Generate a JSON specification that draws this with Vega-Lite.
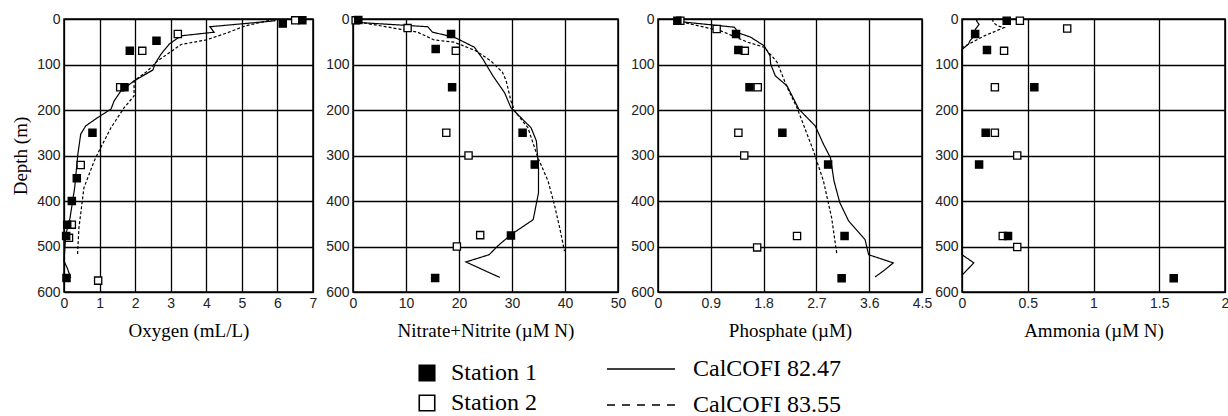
{
  "$schema": "https://vega.github.io/schema/vega-lite/v6.json",
  "background": "white",
  "padding": {"left": 10, "top": 11, "right": 0, "bottom": 0},
  "bounds": "flush",
  "spacing": 40,
  "datasets": {
    "pts": [
      {"v": "Oxygen", "st": "Station 2", "x": 6.5, "d": 3},
      {"v": "Oxygen", "st": "Station 2", "x": 3.2, "d": 33},
      {"v": "Oxygen", "st": "Station 2", "x": 2.2, "d": 70},
      {"v": "Oxygen", "st": "Station 2", "x": 1.58, "d": 150},
      {"v": "Oxygen", "st": "Station 2", "x": 0.47, "d": 321},
      {"v": "Oxygen", "st": "Station 2", "x": 0.22, "d": 452},
      {"v": "Oxygen", "st": "Station 2", "x": 0.14, "d": 481},
      {"v": "Oxygen", "st": "Station 2", "x": 0.96, "d": 575},
      {"v": "Oxygen", "st": "Station 1", "x": 6.7, "d": 3},
      {"v": "Oxygen", "st": "Station 1", "x": 6.15, "d": 10},
      {"v": "Oxygen", "st": "Station 1", "x": 2.6, "d": 48},
      {"v": "Oxygen", "st": "Station 1", "x": 1.85, "d": 70},
      {"v": "Oxygen", "st": "Station 1", "x": 1.7, "d": 150},
      {"v": "Oxygen", "st": "Station 1", "x": 0.8, "d": 250},
      {"v": "Oxygen", "st": "Station 1", "x": 0.36, "d": 350},
      {"v": "Oxygen", "st": "Station 1", "x": 0.22, "d": 400},
      {"v": "Oxygen", "st": "Station 1", "x": 0.09, "d": 452},
      {"v": "Oxygen", "st": "Station 1", "x": 0.06, "d": 477},
      {"v": "Oxygen", "st": "Station 1", "x": 0.07, "d": 569},
      {"v": "Nitrate", "st": "Station 2", "x": 0.5, "d": 3},
      {"v": "Nitrate", "st": "Station 2", "x": 10.3, "d": 20},
      {"v": "Nitrate", "st": "Station 2", "x": 19.4, "d": 70},
      {"v": "Nitrate", "st": "Station 2", "x": 17.6, "d": 250},
      {"v": "Nitrate", "st": "Station 2", "x": 21.8, "d": 300},
      {"v": "Nitrate", "st": "Station 2", "x": 24.0, "d": 475},
      {"v": "Nitrate", "st": "Station 2", "x": 19.6, "d": 500},
      {"v": "Nitrate", "st": "Station 1", "x": 1.0, "d": 2},
      {"v": "Nitrate", "st": "Station 1", "x": 18.5, "d": 33},
      {"v": "Nitrate", "st": "Station 1", "x": 15.6, "d": 66},
      {"v": "Nitrate", "st": "Station 1", "x": 18.7, "d": 150},
      {"v": "Nitrate", "st": "Station 1", "x": 32.0, "d": 250},
      {"v": "Nitrate", "st": "Station 1", "x": 34.3, "d": 320},
      {"v": "Nitrate", "st": "Station 1", "x": 29.8, "d": 476},
      {"v": "Nitrate", "st": "Station 1", "x": 15.5, "d": 569},
      {"v": "Phosphate", "st": "Station 2", "x": 0.38, "d": 4},
      {"v": "Phosphate", "st": "Station 2", "x": 1.0, "d": 22},
      {"v": "Phosphate", "st": "Station 2", "x": 1.48, "d": 70},
      {"v": "Phosphate", "st": "Station 2", "x": 1.7, "d": 150},
      {"v": "Phosphate", "st": "Station 2", "x": 1.37, "d": 250},
      {"v": "Phosphate", "st": "Station 2", "x": 1.47, "d": 300},
      {"v": "Phosphate", "st": "Station 2", "x": 2.37, "d": 477},
      {"v": "Phosphate", "st": "Station 2", "x": 1.69, "d": 502},
      {"v": "Phosphate", "st": "Station 1", "x": 0.33, "d": 4},
      {"v": "Phosphate", "st": "Station 1", "x": 1.33, "d": 33},
      {"v": "Phosphate", "st": "Station 1", "x": 1.37, "d": 68},
      {"v": "Phosphate", "st": "Station 1", "x": 1.56, "d": 150},
      {"v": "Phosphate", "st": "Station 1", "x": 2.12, "d": 250},
      {"v": "Phosphate", "st": "Station 1", "x": 2.9, "d": 320},
      {"v": "Phosphate", "st": "Station 1", "x": 3.18, "d": 477},
      {"v": "Phosphate", "st": "Station 1", "x": 3.13, "d": 570},
      {"v": "Ammonia", "st": "Station 2", "x": 0.44, "d": 4},
      {"v": "Ammonia", "st": "Station 2", "x": 0.8, "d": 21},
      {"v": "Ammonia", "st": "Station 2", "x": 0.32, "d": 70},
      {"v": "Ammonia", "st": "Station 2", "x": 0.25, "d": 150},
      {"v": "Ammonia", "st": "Station 2", "x": 0.25, "d": 250},
      {"v": "Ammonia", "st": "Station 2", "x": 0.42, "d": 300},
      {"v": "Ammonia", "st": "Station 2", "x": 0.31, "d": 477},
      {"v": "Ammonia", "st": "Station 2", "x": 0.42, "d": 501},
      {"v": "Ammonia", "st": "Station 1", "x": 0.34, "d": 4},
      {"v": "Ammonia", "st": "Station 1", "x": 0.1, "d": 33},
      {"v": "Ammonia", "st": "Station 1", "x": 0.19, "d": 68},
      {"v": "Ammonia", "st": "Station 1", "x": 0.55, "d": 150},
      {"v": "Ammonia", "st": "Station 1", "x": 0.18, "d": 250},
      {"v": "Ammonia", "st": "Station 1", "x": 0.13, "d": 320},
      {"v": "Ammonia", "st": "Station 1", "x": 0.35, "d": 477},
      {"v": "Ammonia", "st": "Station 1", "x": 1.61, "d": 570}
    ],
    "lines": [
      {"v": "Oxygen", "s": "CalCOFI 82.47", "x": 5.93, "d": 0},
      {"v": "Oxygen", "s": "CalCOFI 82.47", "x": 5.93, "d": 4},
      {"v": "Oxygen", "s": "CalCOFI 82.47", "x": 4.1, "d": 17},
      {"v": "Oxygen", "s": "CalCOFI 82.47", "x": 4.22, "d": 29},
      {"v": "Oxygen", "s": "CalCOFI 82.47", "x": 3.29, "d": 37},
      {"v": "Oxygen", "s": "CalCOFI 82.47", "x": 2.96, "d": 55},
      {"v": "Oxygen", "s": "CalCOFI 82.47", "x": 2.73, "d": 77},
      {"v": "Oxygen", "s": "CalCOFI 82.47", "x": 2.56, "d": 98},
      {"v": "Oxygen", "s": "CalCOFI 82.47", "x": 2.5, "d": 112},
      {"v": "Oxygen", "s": "CalCOFI 82.47", "x": 1.97, "d": 136},
      {"v": "Oxygen", "s": "CalCOFI 82.47", "x": 1.6, "d": 158},
      {"v": "Oxygen", "s": "CalCOFI 82.47", "x": 1.41, "d": 180},
      {"v": "Oxygen", "s": "CalCOFI 82.47", "x": 1.32, "d": 198},
      {"v": "Oxygen", "s": "CalCOFI 82.47", "x": 0.94, "d": 217},
      {"v": "Oxygen", "s": "CalCOFI 82.47", "x": 0.61, "d": 235},
      {"v": "Oxygen", "s": "CalCOFI 82.47", "x": 0.47, "d": 253},
      {"v": "Oxygen", "s": "CalCOFI 82.47", "x": 0.39, "d": 297},
      {"v": "Oxygen", "s": "CalCOFI 82.47", "x": 0.3, "d": 371},
      {"v": "Oxygen", "s": "CalCOFI 82.47", "x": 0.17, "d": 437},
      {"v": "Oxygen", "s": "CalCOFI 82.47", "x": 0.05, "d": 474},
      {"v": "Oxygen", "s": "CalCOFI 82.47", "x": 0.0, "d": 532},
      {"v": "Oxygen", "s": "CalCOFI 82.47", "x": 0.09, "d": 547},
      {"v": "Oxygen", "s": "CalCOFI 82.47", "x": 0.19, "d": 569},
      {"v": "Oxygen", "s": "CalCOFI 83.55", "x": 5.9, "d": 1},
      {"v": "Oxygen", "s": "CalCOFI 83.55", "x": 5.1, "d": 15},
      {"v": "Oxygen", "s": "CalCOFI 83.55", "x": 4.6, "d": 30},
      {"v": "Oxygen", "s": "CalCOFI 83.55", "x": 4.0, "d": 46},
      {"v": "Oxygen", "s": "CalCOFI 83.55", "x": 3.29, "d": 56},
      {"v": "Oxygen", "s": "CalCOFI 83.55", "x": 2.91, "d": 77},
      {"v": "Oxygen", "s": "CalCOFI 83.55", "x": 2.63, "d": 92},
      {"v": "Oxygen", "s": "CalCOFI 83.55", "x": 2.35, "d": 114},
      {"v": "Oxygen", "s": "CalCOFI 83.55", "x": 1.97, "d": 136},
      {"v": "Oxygen", "s": "CalCOFI 83.55", "x": 1.97, "d": 169},
      {"v": "Oxygen", "s": "CalCOFI 83.55", "x": 1.69, "d": 195},
      {"v": "Oxygen", "s": "CalCOFI 83.55", "x": 1.32, "d": 239},
      {"v": "Oxygen", "s": "CalCOFI 83.55", "x": 1.03, "d": 283},
      {"v": "Oxygen", "s": "CalCOFI 83.55", "x": 0.85, "d": 312},
      {"v": "Oxygen", "s": "CalCOFI 83.55", "x": 0.56, "d": 371},
      {"v": "Oxygen", "s": "CalCOFI 83.55", "x": 0.42, "d": 459},
      {"v": "Oxygen", "s": "CalCOFI 83.55", "x": 0.38, "d": 518},
      {"v": "Nitrate", "s": "CalCOFI 82.47", "x": 0.2, "d": 7},
      {"v": "Nitrate", "s": "CalCOFI 82.47", "x": 14.1, "d": 17},
      {"v": "Nitrate", "s": "CalCOFI 82.47", "x": 15.0, "d": 29},
      {"v": "Nitrate", "s": "CalCOFI 82.47", "x": 19.1, "d": 40},
      {"v": "Nitrate", "s": "CalCOFI 82.47", "x": 22.9, "d": 62},
      {"v": "Nitrate", "s": "CalCOFI 82.47", "x": 24.5, "d": 88},
      {"v": "Nitrate", "s": "CalCOFI 82.47", "x": 26.4, "d": 125},
      {"v": "Nitrate", "s": "CalCOFI 82.47", "x": 28.6, "d": 162},
      {"v": "Nitrate", "s": "CalCOFI 82.47", "x": 29.8, "d": 195},
      {"v": "Nitrate", "s": "CalCOFI 82.47", "x": 31.7, "d": 217},
      {"v": "Nitrate", "s": "CalCOFI 82.47", "x": 33.6, "d": 239},
      {"v": "Nitrate", "s": "CalCOFI 82.47", "x": 34.6, "d": 268},
      {"v": "Nitrate", "s": "CalCOFI 82.47", "x": 35.0, "d": 327},
      {"v": "Nitrate", "s": "CalCOFI 82.47", "x": 35.0, "d": 382},
      {"v": "Nitrate", "s": "CalCOFI 82.47", "x": 34.0, "d": 441},
      {"v": "Nitrate", "s": "CalCOFI 82.47", "x": 29.8, "d": 474},
      {"v": "Nitrate", "s": "CalCOFI 82.47", "x": 27.3, "d": 499},
      {"v": "Nitrate", "s": "CalCOFI 82.47", "x": 25.7, "d": 518},
      {"v": "Nitrate", "s": "CalCOFI 82.47", "x": 21.3, "d": 534},
      {"v": "Nitrate", "s": "CalCOFI 82.47", "x": 27.7, "d": 568},
      {"v": "Nitrate", "s": "CalCOFI 83.55", "x": 0.2, "d": 5},
      {"v": "Nitrate", "s": "CalCOFI 83.55", "x": 12.2, "d": 29},
      {"v": "Nitrate", "s": "CalCOFI 83.55", "x": 15.3, "d": 46},
      {"v": "Nitrate", "s": "CalCOFI 83.55", "x": 19.1, "d": 51},
      {"v": "Nitrate", "s": "CalCOFI 83.55", "x": 23.2, "d": 70},
      {"v": "Nitrate", "s": "CalCOFI 83.55", "x": 26.0, "d": 92},
      {"v": "Nitrate", "s": "CalCOFI 83.55", "x": 28.2, "d": 117},
      {"v": "Nitrate", "s": "CalCOFI 83.55", "x": 28.9, "d": 136},
      {"v": "Nitrate", "s": "CalCOFI 83.55", "x": 29.8, "d": 180},
      {"v": "Nitrate", "s": "CalCOFI 83.55", "x": 30.5, "d": 202},
      {"v": "Nitrate", "s": "CalCOFI 83.55", "x": 33.0, "d": 239},
      {"v": "Nitrate", "s": "CalCOFI 83.55", "x": 34.9, "d": 305},
      {"v": "Nitrate", "s": "CalCOFI 83.55", "x": 36.8, "d": 356},
      {"v": "Nitrate", "s": "CalCOFI 83.55", "x": 38.0, "d": 408},
      {"v": "Nitrate", "s": "CalCOFI 83.55", "x": 39.0, "d": 459},
      {"v": "Nitrate", "s": "CalCOFI 83.55", "x": 39.9, "d": 510},
      {"v": "Phosphate", "s": "CalCOFI 82.47", "x": 0.31, "d": 5},
      {"v": "Phosphate", "s": "CalCOFI 82.47", "x": 1.3, "d": 18},
      {"v": "Phosphate", "s": "CalCOFI 82.47", "x": 1.38, "d": 31},
      {"v": "Phosphate", "s": "CalCOFI 82.47", "x": 1.58, "d": 40},
      {"v": "Phosphate", "s": "CalCOFI 82.47", "x": 1.81, "d": 59},
      {"v": "Phosphate", "s": "CalCOFI 82.47", "x": 1.91, "d": 81},
      {"v": "Phosphate", "s": "CalCOFI 82.47", "x": 1.92, "d": 99},
      {"v": "Phosphate", "s": "CalCOFI 82.47", "x": 2.0, "d": 125},
      {"v": "Phosphate", "s": "CalCOFI 82.47", "x": 2.2, "d": 147},
      {"v": "Phosphate", "s": "CalCOFI 82.47", "x": 2.4, "d": 198},
      {"v": "Phosphate", "s": "CalCOFI 82.47", "x": 2.68, "d": 235},
      {"v": "Phosphate", "s": "CalCOFI 82.47", "x": 2.82, "d": 275},
      {"v": "Phosphate", "s": "CalCOFI 82.47", "x": 2.94, "d": 305},
      {"v": "Phosphate", "s": "CalCOFI 82.47", "x": 3.0, "d": 356},
      {"v": "Phosphate", "s": "CalCOFI 82.47", "x": 3.1, "d": 404},
      {"v": "Phosphate", "s": "CalCOFI 82.47", "x": 3.25, "d": 444},
      {"v": "Phosphate", "s": "CalCOFI 82.47", "x": 3.53, "d": 485},
      {"v": "Phosphate", "s": "CalCOFI 82.47", "x": 3.59, "d": 518},
      {"v": "Phosphate", "s": "CalCOFI 82.47", "x": 4.01, "d": 536},
      {"v": "Phosphate", "s": "CalCOFI 82.47", "x": 3.84, "d": 554},
      {"v": "Phosphate", "s": "CalCOFI 82.47", "x": 3.7, "d": 567},
      {"v": "Phosphate", "s": "CalCOFI 83.55", "x": 0.31, "d": 4},
      {"v": "Phosphate", "s": "CalCOFI 83.55", "x": 1.07, "d": 26},
      {"v": "Phosphate", "s": "CalCOFI 83.55", "x": 1.53, "d": 51},
      {"v": "Phosphate", "s": "CalCOFI 83.55", "x": 1.81, "d": 62},
      {"v": "Phosphate", "s": "CalCOFI 83.55", "x": 2.03, "d": 95},
      {"v": "Phosphate", "s": "CalCOFI 83.55", "x": 2.2, "d": 150},
      {"v": "Phosphate", "s": "CalCOFI 83.55", "x": 2.37, "d": 195},
      {"v": "Phosphate", "s": "CalCOFI 83.55", "x": 2.65, "d": 290},
      {"v": "Phosphate", "s": "CalCOFI 83.55", "x": 2.82, "d": 356},
      {"v": "Phosphate", "s": "CalCOFI 83.55", "x": 2.96, "d": 437},
      {"v": "Phosphate", "s": "CalCOFI 83.55", "x": 3.05, "d": 518},
      {"v": "Ammonia", "s": "CalCOFI 82.47", "x": 0.12, "d": 0},
      {"v": "Ammonia", "s": "CalCOFI 82.47", "x": 0.11, "d": 4},
      {"v": "Ammonia", "s": "CalCOFI 82.47", "x": 0.13, "d": 12},
      {"v": "Ammonia", "s": "CalCOFI 82.47", "x": 0.1, "d": 23},
      {"v": "Ammonia", "s": "CalCOFI 82.47", "x": 0.12, "d": 30},
      {"v": "Ammonia", "s": "CalCOFI 82.47", "x": 0.1, "d": 35},
      {"v": "Ammonia", "s": "CalCOFI 82.47", "x": 0.06, "d": 48},
      {"v": "Ammonia", "s": "CalCOFI 82.47", "x": 0.05, "d": 55},
      {"v": "Ammonia", "s": "CalCOFI 82.47", "x": 0.0, "d": 67},
      {"v": "Ammonia", "s": "CalCOFI 82.47", "x": 0.0, "d": 518},
      {"v": "Ammonia", "s": "CalCOFI 82.47", "x": 0.09, "d": 536},
      {"v": "Ammonia", "s": "CalCOFI 82.47", "x": 0.0, "d": 563},
      {"v": "Ammonia", "s": "CalCOFI 83.55", "x": 0.23, "d": 0},
      {"v": "Ammonia", "s": "CalCOFI 83.55", "x": 0.24, "d": 8},
      {"v": "Ammonia", "s": "CalCOFI 83.55", "x": 0.27, "d": 15},
      {"v": "Ammonia", "s": "CalCOFI 83.55", "x": 0.32, "d": 19},
      {"v": "Ammonia", "s": "CalCOFI 83.55", "x": 0.17, "d": 37},
      {"v": "Ammonia", "s": "CalCOFI 83.55", "x": 0.0, "d": 63}
    ]
  },
  "hconcat": [
    {
      "width": 249, "height": 273,
      "layer": [
        {
          "data": {"name": "lines"},
          "transform": [{"filter": "datum.v === 'Oxygen' && datum.s === 'CalCOFI 82.47'"}],
          "mark": {"type": "line", "color": "black", "strokeWidth": 1.2},
          "encoding": {
            "x": {"field": "x", "type": "quantitative", "scale": {"domain": [0, 7], "nice": false}, "axis": {"title": "Oxygen (mL/L)", "values": [0, 1, 2, 3, 4, 5, 6, 7], "tickCount": 20, "labelOverlap": false}},
            "y": {"field": "d", "type": "quantitative", "scale": {"domain": [0, 600], "reverse": true, "nice": false}, "axis": {"title": "Depth (m)", "values": [0, 100, 200, 300, 400, 500, 600], "tickCount": 20, "labelOverlap": false}},
            "strokeDash": {"field": "s", "type": "nominal", "scale": {"domain": ["CalCOFI 82.47", "CalCOFI 83.55"], "range": [[1, 0], [8, 7]]},
              "legend": {"title": null, "orient": "none", "legendX": 565, "legendY": 338, "symbolType": "M-4,0H4", "symbolSize": 289, "symbolStrokeWidth": 1.3, "symbolStrokeColor": "black", "labelOffset": 40, "rowPadding": 12}},
            "order": {"value": null}
          }
        },
        {
          "data": {"name": "lines"},
          "transform": [{"filter": "datum.v === 'Oxygen' && datum.s === 'CalCOFI 83.55'"}],
          "mark": {"type": "line", "color": "black", "strokeWidth": 1.2, "strokeDash": [3, 2]},
          "encoding": {
            "x": {"field": "x", "type": "quantitative"},
            "y": {"field": "d", "type": "quantitative"},
            "order": {"value": null}
          }
        },
        {
          "data": {"name": "pts"},
          "transform": [{"filter": "datum.v === 'Oxygen'"}],
          "mark": {"type": "point", "shape": "square", "size": 52, "filled": true, "stroke": "black", "strokeWidth": 1.3, "opacity": 1},
          "encoding": {
            "x": {"field": "x", "type": "quantitative"},
            "y": {"field": "d", "type": "quantitative"},
            "fill": {"field": "st", "type": "nominal", "scale": {"domain": ["Station 1", "Station 2"], "range": ["black", "white"]},
              "legend": {"title": null, "orient": "none", "legendX": 351, "legendY": 342, "symbolType": "square", "symbolSize": 240, "symbolStrokeColor": "black", "symbolStrokeWidth": 1.6, "labelOffset": 12, "rowPadding": 6}}
          }
        }
      ]
    },
    {
      "width": 265, "height": 273,
      "layer": [
        {
          "data": {"name": "lines"},
          "transform": [{"filter": "datum.v === 'Nitrate' && datum.s === 'CalCOFI 82.47'"}],
          "mark": {"type": "line", "color": "black", "strokeWidth": 1.2},
          "encoding": {
            "x": {"field": "x", "type": "quantitative", "scale": {"domain": [0, 50], "nice": false}, "axis": {"title": "Nitrate+Nitrite (µM N)", "values": [0, 10, 20, 30, 40, 50], "tickCount": 20, "labelOverlap": false}},
            "y": {"field": "d", "type": "quantitative", "scale": {"domain": [0, 600], "reverse": true, "nice": false}, "axis": {"title": null, "values": [0, 100, 200, 300, 400, 500, 600], "tickCount": 20, "labelOverlap": false}},
            "strokeDash": {"field": "s", "type": "nominal"},
            "order": {"value": null}
          }
        },
        {
          "data": {"name": "lines"},
          "transform": [{"filter": "datum.v === 'Nitrate' && datum.s === 'CalCOFI 83.55'"}],
          "mark": {"type": "line", "color": "black", "strokeWidth": 1.2, "strokeDash": [3, 2]},
          "encoding": {
            "x": {"field": "x", "type": "quantitative"},
            "y": {"field": "d", "type": "quantitative"},
            "order": {"value": null}
          }
        },
        {
          "data": {"name": "pts"},
          "transform": [{"filter": "datum.v === 'Nitrate'"}],
          "mark": {"type": "point", "shape": "square", "size": 52, "filled": true, "stroke": "black", "strokeWidth": 1.3, "opacity": 1},
          "encoding": {
            "x": {"field": "x", "type": "quantitative"},
            "y": {"field": "d", "type": "quantitative"},
            "fill": {"field": "st", "type": "nominal"}
          }
        }
      ]
    },
    {
      "width": 264, "height": 273,
      "layer": [
        {
          "data": {"name": "lines"},
          "transform": [{"filter": "datum.v === 'Phosphate' && datum.s === 'CalCOFI 82.47'"}],
          "mark": {"type": "line", "color": "black", "strokeWidth": 1.2},
          "encoding": {
            "x": {"field": "x", "type": "quantitative", "scale": {"domain": [0, 4.5], "nice": false}, "axis": {"title": "Phosphate (µM)", "values": [0, 0.9, 1.8, 2.7, 3.6, 4.5], "tickCount": 20, "labelOverlap": false}},
            "y": {"field": "d", "type": "quantitative", "scale": {"domain": [0, 600], "reverse": true, "nice": false}, "axis": {"title": null, "values": [0, 100, 200, 300, 400, 500, 600], "tickCount": 20, "labelOverlap": false}},
            "strokeDash": {"field": "s", "type": "nominal"},
            "order": {"value": null}
          }
        },
        {
          "data": {"name": "lines"},
          "transform": [{"filter": "datum.v === 'Phosphate' && datum.s === 'CalCOFI 83.55'"}],
          "mark": {"type": "line", "color": "black", "strokeWidth": 1.2, "strokeDash": [3, 2]},
          "encoding": {
            "x": {"field": "x", "type": "quantitative"},
            "y": {"field": "d", "type": "quantitative"},
            "order": {"value": null}
          }
        },
        {
          "data": {"name": "pts"},
          "transform": [{"filter": "datum.v === 'Phosphate'"}],
          "mark": {"type": "point", "shape": "square", "size": 52, "filled": true, "stroke": "black", "strokeWidth": 1.3, "opacity": 1},
          "encoding": {
            "x": {"field": "x", "type": "quantitative"},
            "y": {"field": "d", "type": "quantitative"},
            "fill": {"field": "st", "type": "nominal"}
          }
        }
      ]
    },
    {
      "width": 263, "height": 273,
      "layer": [
        {
          "data": {"name": "lines"},
          "transform": [{"filter": "datum.v === 'Ammonia' && datum.s === 'CalCOFI 82.47'"}],
          "mark": {"type": "line", "color": "black", "strokeWidth": 1.2},
          "encoding": {
            "x": {"field": "x", "type": "quantitative", "scale": {"domain": [0, 2], "nice": false}, "axis": {"title": "Ammonia (µM N)", "values": [0, 0.5, 1, 1.5, 2], "tickCount": 20, "labelOverlap": false}},
            "y": {"field": "d", "type": "quantitative", "scale": {"domain": [0, 600], "reverse": true, "nice": false}, "axis": {"title": null, "values": [0, 100, 200, 300, 400, 500, 600], "tickCount": 20, "labelOverlap": false}},
            "strokeDash": {"field": "s", "type": "nominal"},
            "order": {"value": null}
          }
        },
        {
          "data": {"name": "lines"},
          "transform": [{"filter": "datum.v === 'Ammonia' && datum.s === 'CalCOFI 83.55'"}],
          "mark": {"type": "line", "color": "black", "strokeWidth": 1.2, "strokeDash": [3, 2]},
          "encoding": {
            "x": {"field": "x", "type": "quantitative"},
            "y": {"field": "d", "type": "quantitative"},
            "order": {"value": null}
          }
        },
        {
          "data": {"name": "pts"},
          "transform": [{"filter": "datum.v === 'Ammonia'"}],
          "mark": {"type": "point", "shape": "square", "size": 52, "filled": true, "stroke": "black", "strokeWidth": 1.3, "opacity": 1},
          "encoding": {
            "x": {"field": "x", "type": "quantitative"},
            "y": {"field": "d", "type": "quantitative"},
            "fill": {"field": "st", "type": "nominal"}
          }
        }
      ]
    }
  ],
  "config": {
    "view": {"stroke": "black", "strokeWidth": 1.5},
    "axis": {
      "grid": true, "gridColor": "black", "gridWidth": 1.3, "gridOpacity": 1,
      "domain": false, "ticks": false,
      "labelFont": "Liberation Sans", "labelFontSize": 14, "labelColor": "#222", "labelPadding": 4,
      "labelFlush": false, "labelOverlap": false, "format": "~r",
      "titleFont": "Liberation Serif", "titleFontSize": 19, "titleFontWeight": "normal", "titleColor": "black"
    },
    "axisX": {"titlePadding": 11},
    "axisY": {"titlePadding": 6},
    "legend": {"labelFont": "Liberation Serif", "labelFontSize": 24, "labelColor": "black", "padding": 0}
  }
}
